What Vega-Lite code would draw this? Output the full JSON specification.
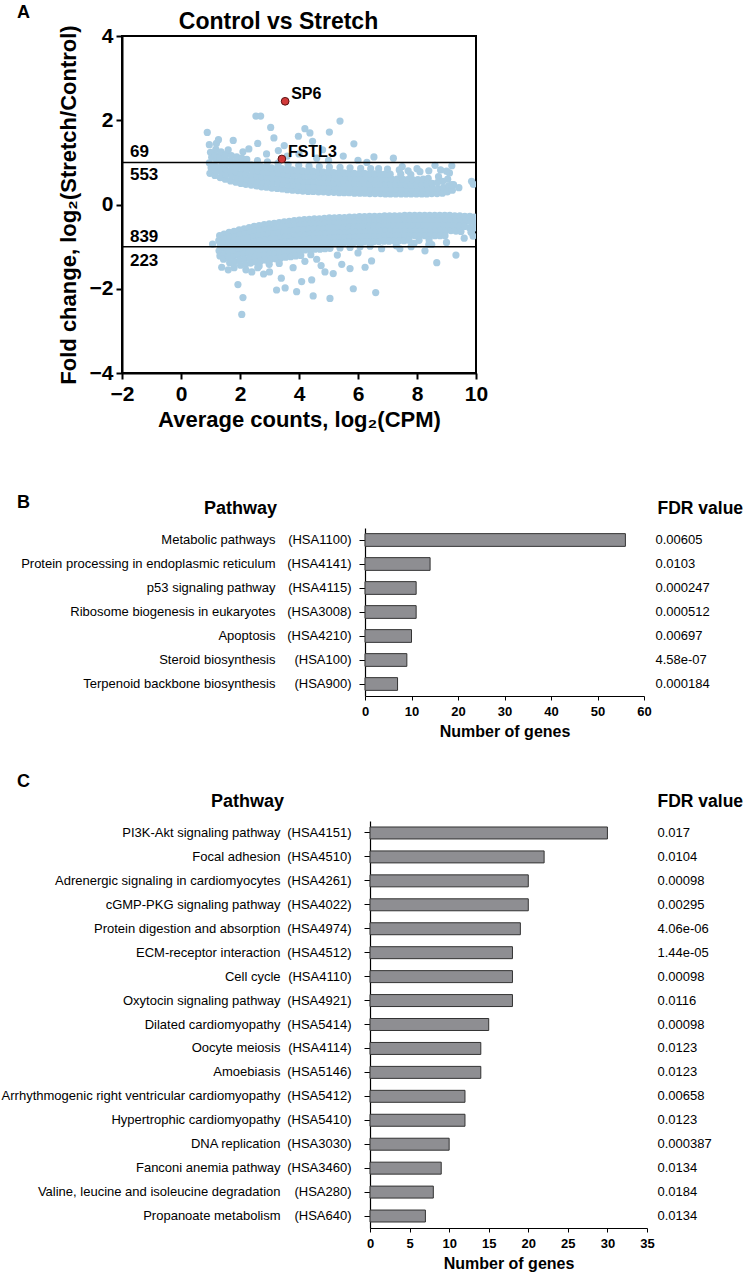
{
  "$schema": "https://vega.github.io/schema/vega-lite/v6.json",
  "padding": {"left": 1, "top": 3, "right": 5, "bottom": 4},
  "config": {
    "font": "Liberation Sans",
    "view": {"stroke": null},
    "axis": {"grid": false, "labelFlush": false, "domainColor": "#000", "tickColor": "#000", "labelColor": "#000", "titleColor": "#000", "labelLimit": 400},
    "title": {"color": "#000"}
  },
  "datasets": {
    "bg": [
      {"x":0.98,"y":0.74},{"x":1.02,"y":0.87},{"x":0.96,"y":0.99},{"x":1.04,"y":1.12},{"x":1.0,"y":1.24},
      {"x":1.15,"y":0.69},{"x":1.19,"y":0.81},{"x":1.14,"y":0.93},{"x":1.2,"y":1.06},{"x":1.16,"y":1.18},{"x":1.18,"y":1.31},
      {"x":1.33,"y":0.64},{"x":1.37,"y":0.76},{"x":1.34,"y":0.89},{"x":1.38,"y":1.01},{"x":1.32,"y":1.13},{"x":1.36,"y":1.25},
      {"x":1.5,"y":0.6},{"x":1.54,"y":0.71},{"x":1.51,"y":0.84},{"x":1.55,"y":0.96},{"x":1.49,"y":1.08},{"x":1.53,"y":1.19},
      {"x":1.68,"y":0.56},{"x":1.72,"y":0.68},{"x":1.69,"y":0.8},{"x":1.73,"y":0.92},{"x":1.67,"y":1.04},{"x":1.71,"y":1.16},
      {"x":1.86,"y":0.53},{"x":1.9,"y":0.65},{"x":1.87,"y":0.77},{"x":1.91,"y":0.89},{"x":1.85,"y":1.01},{"x":1.89,"y":1.13},
      {"x":2.03,"y":0.5},{"x":2.07,"y":0.62},{"x":2.04,"y":0.74},{"x":2.08,"y":0.86},{"x":2.02,"y":0.98},{"x":2.06,"y":1.1},
      {"x":2.2,"y":0.48},{"x":2.24,"y":0.6},{"x":2.21,"y":0.72},{"x":2.25,"y":0.84},{"x":2.19,"y":0.96},{"x":2.23,"y":1.07},
      {"x":2.38,"y":0.46},{"x":2.42,"y":0.58},{"x":2.39,"y":0.7},{"x":2.43,"y":0.82},{"x":2.37,"y":0.94},
      {"x":2.56,"y":0.44},{"x":2.6,"y":0.56},{"x":2.57,"y":0.68},{"x":2.61,"y":0.8},{"x":2.55,"y":0.92},{"x":2.59,"y":1.04},
      {"x":2.73,"y":0.42},{"x":2.77,"y":0.54},{"x":2.74,"y":0.66},{"x":2.78,"y":0.78},{"x":2.72,"y":0.9},
      {"x":2.9,"y":0.41},{"x":2.94,"y":0.53},{"x":2.91,"y":0.65},{"x":2.95,"y":0.77},{"x":2.89,"y":0.89},{"x":2.93,"y":1.01},
      {"x":3.08,"y":0.39},{"x":3.12,"y":0.51},{"x":3.09,"y":0.63},{"x":3.13,"y":0.75},{"x":3.07,"y":0.87},
      {"x":3.26,"y":0.38},{"x":3.3,"y":0.5},{"x":3.27,"y":0.62},{"x":3.31,"y":0.74},{"x":3.25,"y":0.86},{"x":3.29,"y":0.98},
      {"x":3.43,"y":0.37},{"x":3.47,"y":0.49},{"x":3.44,"y":0.61},{"x":3.48,"y":0.73},{"x":3.42,"y":0.85},
      {"x":3.6,"y":0.35},{"x":3.64,"y":0.47},{"x":3.61,"y":0.59},{"x":3.65,"y":0.71},{"x":3.59,"y":0.83},{"x":3.63,"y":0.95},
      {"x":3.78,"y":0.34},{"x":3.82,"y":0.46},{"x":3.79,"y":0.58},{"x":3.83,"y":0.7},{"x":3.77,"y":0.82},
      {"x":3.96,"y":0.33},{"x":4.0,"y":0.45},{"x":3.97,"y":0.57},{"x":4.01,"y":0.69},{"x":3.95,"y":0.81},{"x":3.99,"y":0.93},
      {"x":4.13,"y":0.32},{"x":4.17,"y":0.44},{"x":4.14,"y":0.56},{"x":4.18,"y":0.68},{"x":4.12,"y":0.8},
      {"x":4.31,"y":0.31},{"x":4.35,"y":0.43},{"x":4.32,"y":0.55},{"x":4.36,"y":0.67},{"x":4.3,"y":0.79},{"x":4.34,"y":0.91},
      {"x":4.48,"y":0.31},{"x":4.52,"y":0.43},{"x":4.49,"y":0.55},{"x":4.53,"y":0.67},{"x":4.47,"y":0.79},
      {"x":4.66,"y":0.3},{"x":4.7,"y":0.42},{"x":4.67,"y":0.54},{"x":4.71,"y":0.66},{"x":4.65,"y":0.78},{"x":4.69,"y":0.9},
      {"x":4.83,"y":0.3},{"x":4.87,"y":0.41},{"x":4.84,"y":0.53},{"x":4.88,"y":0.65},{"x":4.82,"y":0.77},
      {"x":5.0,"y":0.29},{"x":5.04,"y":0.41},{"x":5.01,"y":0.53},{"x":5.05,"y":0.65},{"x":4.99,"y":0.77},{"x":5.03,"y":0.89},
      {"x":5.18,"y":0.29},{"x":5.22,"y":0.4},{"x":5.19,"y":0.52},{"x":5.23,"y":0.64},{"x":5.17,"y":0.76},
      {"x":5.36,"y":0.28},{"x":5.4,"y":0.4},{"x":5.37,"y":0.52},{"x":5.41,"y":0.64},{"x":5.35,"y":0.76},{"x":5.39,"y":0.88},
      {"x":5.53,"y":0.28},{"x":5.57,"y":0.39},{"x":5.54,"y":0.51},{"x":5.58,"y":0.63},{"x":5.52,"y":0.75},
      {"x":5.7,"y":0.28},{"x":5.74,"y":0.39},{"x":5.71,"y":0.51},{"x":5.75,"y":0.63},{"x":5.69,"y":0.75},{"x":5.73,"y":0.87},
      {"x":5.88,"y":0.27},{"x":5.92,"y":0.38},{"x":5.89,"y":0.5},{"x":5.93,"y":0.62},{"x":5.87,"y":0.74},
      {"x":6.06,"y":0.27},{"x":6.1,"y":0.38},{"x":6.07,"y":0.5},{"x":6.11,"y":0.62},{"x":6.05,"y":0.74},{"x":6.09,"y":0.86},
      {"x":6.23,"y":0.27},{"x":6.27,"y":0.38},{"x":6.24,"y":0.5},{"x":6.28,"y":0.62},{"x":6.22,"y":0.74},
      {"x":6.4,"y":0.26},{"x":6.44,"y":0.37},{"x":6.41,"y":0.49},{"x":6.45,"y":0.61},{"x":6.39,"y":0.73},{"x":6.43,"y":0.85},
      {"x":6.58,"y":0.26},{"x":6.62,"y":0.37},{"x":6.59,"y":0.49},{"x":6.63,"y":0.61},{"x":6.57,"y":0.73},
      {"x":6.76,"y":0.26},{"x":6.8,"y":0.37},{"x":6.77,"y":0.49},{"x":6.81,"y":0.61},{"x":6.75,"y":0.73},
      {"x":6.93,"y":0.25},{"x":6.97,"y":0.36},{"x":6.94,"y":0.48},{"x":6.98,"y":0.6},{"x":6.92,"y":0.72},
      {"x":7.1,"y":0.25},{"x":7.14,"y":0.36},{"x":7.11,"y":0.48},{"x":7.15,"y":0.6},{"x":7.09,"y":0.72},
      {"x":7.28,"y":0.25},{"x":7.32,"y":0.36},{"x":7.29,"y":0.48},{"x":7.33,"y":0.6},
      {"x":7.46,"y":0.25},{"x":7.5,"y":0.36},{"x":7.47,"y":0.48},{"x":7.51,"y":0.6},{"x":7.45,"y":0.72},
      {"x":7.63,"y":0.25},{"x":7.67,"y":0.35},{"x":7.64,"y":0.47},{"x":7.68,"y":0.59},
      {"x":7.8,"y":0.25},{"x":7.84,"y":0.35},{"x":7.81,"y":0.47},{"x":7.85,"y":0.59},{"x":7.79,"y":0.71},
      {"x":7.98,"y":0.25},{"x":8.02,"y":0.35},{"x":7.99,"y":0.47},{"x":8.03,"y":0.59},
      {"x":8.16,"y":0.25},{"x":8.2,"y":0.35},{"x":8.17,"y":0.47},{"x":8.21,"y":0.6},
      {"x":8.33,"y":0.25},{"x":8.37,"y":0.36},{"x":8.34,"y":0.48},{"x":8.38,"y":0.62},
      {"x":8.5,"y":0.26},{"x":8.54,"y":0.37},{"x":8.51,"y":0.5},
      {"x":8.68,"y":0.26},{"x":8.72,"y":0.38},{"x":8.69,"y":0.52},{"x":8.73,"y":0.66},
      {"x":8.86,"y":0.27},{"x":8.9,"y":0.4},{"x":8.87,"y":0.55},
      {"x":9.03,"y":0.3},{"x":9.07,"y":0.44},{"x":9.04,"y":0.6},
      {"x":9.2,"y":0.34},{"x":9.24,"y":0.47},{"x":9.42,"y":0.4},
      {"x":6.7,"y":0.85},{"x":7.0,"y":0.84},{"x":7.4,"y":0.82},{"x":7.7,"y":0.8},{"x":8.1,"y":0.78},{"x":8.4,"y":0.8},{"x":8.8,"y":0.82},{"x":9.1,"y":0.75},
      {"x":0.89,"y":1.71},{"x":0.96,"y":1.42},{"x":1.2,"y":1.45},{"x":1.27,"y":1.54},{"x":1.6,"y":1.3},{"x":1.77,"y":1.52},{"x":2.1,"y":1.25},{"x":2.3,"y":1.32},
      {"x":2.54,"y":2.1},{"x":2.7,"y":2.1},{"x":2.6,"y":1.45},{"x":2.9,"y":1.2},{"x":3.04,"y":1.83},{"x":3.15,"y":1.58},{"x":3.3,"y":1.28},{"x":3.5,"y":1.4},
      {"x":3.6,"y":1.15},{"x":3.98,"y":1.62},{"x":4.0,"y":1.2},{"x":4.2,"y":1.8},{"x":4.37,"y":1.7},{"x":4.46,"y":1.5},{"x":4.6,"y":1.1},{"x":4.8,"y":1.3},
      {"x":5.0,"y":1.05},{"x":5.03,"y":1.72},{"x":5.39,"y":1.98},{"x":5.5,"y":1.15},{"x":5.86,"y":1.44},{"x":6.0,"y":1.05},{"x":6.3,"y":1.0},{"x":6.54,"y":1.13},
      {"x":7.2,"y":1.1},{"x":7.5,"y":0.9},{"x":8.0,"y":0.85},{"x":8.61,"y":0.93},{"x":9.0,"y":0.79},{"x":9.18,"y":0.92},{"x":9.18,"y":0.47},{"x":9.91,"y":0.48},{"x":9.85,"y":0.55},
      {"x":1.31,"y":-0.74},{"x":1.28,"y":-0.86},{"x":1.33,"y":-0.98},{"x":1.29,"y":-1.1},{"x":1.32,"y":-1.22},
      {"x":1.46,"y":-0.7},{"x":1.49,"y":-0.82},{"x":1.45,"y":-0.94},{"x":1.5,"y":-1.06},{"x":1.47,"y":-1.18},{"x":1.44,"y":-1.3},
      {"x":1.63,"y":-0.66},{"x":1.66,"y":-0.78},{"x":1.62,"y":-0.9},{"x":1.67,"y":-1.02},{"x":1.64,"y":-1.14},{"x":1.61,"y":-1.26},{"x":1.65,"y":-1.38},
      {"x":1.8,"y":-0.64},{"x":1.83,"y":-0.76},{"x":1.79,"y":-0.88},{"x":1.84,"y":-1.0},{"x":1.81,"y":-1.12},{"x":1.78,"y":-1.24},{"x":1.82,"y":-1.36},
      {"x":1.97,"y":-0.6},{"x":2.0,"y":-0.72},{"x":1.96,"y":-0.84},{"x":2.01,"y":-0.96},{"x":1.98,"y":-1.08},{"x":1.95,"y":-1.2},{"x":1.99,"y":-1.32},{"x":2.02,"y":-1.44},
      {"x":2.14,"y":-0.58},{"x":2.17,"y":-0.7},{"x":2.13,"y":-0.82},{"x":2.18,"y":-0.94},{"x":2.15,"y":-1.06},{"x":2.12,"y":-1.18},{"x":2.16,"y":-1.3},{"x":2.19,"y":-1.42},
      {"x":2.31,"y":-0.55},{"x":2.34,"y":-0.67},{"x":2.3,"y":-0.79},{"x":2.35,"y":-0.91},{"x":2.32,"y":-1.03},{"x":2.29,"y":-1.15},{"x":2.33,"y":-1.27},{"x":2.36,"y":-1.39},
      {"x":2.48,"y":-0.52},{"x":2.51,"y":-0.64},{"x":2.47,"y":-0.76},{"x":2.52,"y":-0.88},{"x":2.49,"y":-1.0},{"x":2.46,"y":-1.12},{"x":2.5,"y":-1.24},{"x":2.53,"y":-1.36},
      {"x":2.65,"y":-0.5},{"x":2.68,"y":-0.62},{"x":2.64,"y":-0.74},{"x":2.69,"y":-0.86},{"x":2.66,"y":-0.98},{"x":2.63,"y":-1.1},{"x":2.67,"y":-1.22},{"x":2.7,"y":-1.34},{"x":2.65,"y":-1.46},
      {"x":2.82,"y":-0.48},{"x":2.85,"y":-0.6},{"x":2.81,"y":-0.72},{"x":2.86,"y":-0.84},{"x":2.83,"y":-0.96},{"x":2.8,"y":-1.08},{"x":2.84,"y":-1.2},{"x":2.87,"y":-1.32},
      {"x":2.99,"y":-0.46},{"x":3.02,"y":-0.58},{"x":2.98,"y":-0.7},{"x":3.03,"y":-0.82},{"x":3.0,"y":-0.94},{"x":2.97,"y":-1.06},{"x":3.01,"y":-1.18},{"x":3.04,"y":-1.3},{"x":2.99,"y":-1.42},
      {"x":3.16,"y":-0.45},{"x":3.19,"y":-0.57},{"x":3.15,"y":-0.69},{"x":3.2,"y":-0.81},{"x":3.17,"y":-0.93},{"x":3.14,"y":-1.05},{"x":3.18,"y":-1.17},{"x":3.21,"y":-1.29},
      {"x":3.33,"y":-0.43},{"x":3.36,"y":-0.55},{"x":3.32,"y":-0.67},{"x":3.37,"y":-0.79},{"x":3.34,"y":-0.91},{"x":3.31,"y":-1.03},{"x":3.35,"y":-1.15},{"x":3.38,"y":-1.27},{"x":3.33,"y":-1.4},
      {"x":3.5,"y":-0.41},{"x":3.53,"y":-0.53},{"x":3.49,"y":-0.65},{"x":3.54,"y":-0.77},{"x":3.51,"y":-0.89},{"x":3.48,"y":-1.01},{"x":3.52,"y":-1.13},{"x":3.55,"y":-1.25},
      {"x":3.67,"y":-0.4},{"x":3.7,"y":-0.52},{"x":3.66,"y":-0.64},{"x":3.71,"y":-0.76},{"x":3.68,"y":-0.88},{"x":3.65,"y":-1.0},{"x":3.69,"y":-1.12},{"x":3.72,"y":-1.24},
      {"x":3.84,"y":-0.38},{"x":3.87,"y":-0.5},{"x":3.83,"y":-0.62},{"x":3.88,"y":-0.74},{"x":3.85,"y":-0.86},{"x":3.82,"y":-0.98},{"x":3.86,"y":-1.1},{"x":3.89,"y":-1.22},
      {"x":4.01,"y":-0.37},{"x":4.04,"y":-0.49},{"x":4.0,"y":-0.61},{"x":4.05,"y":-0.73},{"x":4.02,"y":-0.85},{"x":3.99,"y":-0.97},{"x":4.03,"y":-1.09},{"x":4.06,"y":-1.21},
      {"x":4.18,"y":-0.36},{"x":4.21,"y":-0.48},{"x":4.17,"y":-0.6},{"x":4.22,"y":-0.72},{"x":4.19,"y":-0.84},{"x":4.16,"y":-0.96},{"x":4.2,"y":-1.08},
      {"x":4.35,"y":-0.35},{"x":4.38,"y":-0.47},{"x":4.34,"y":-0.59},{"x":4.39,"y":-0.71},{"x":4.36,"y":-0.83},{"x":4.33,"y":-0.95},{"x":4.37,"y":-1.07},{"x":4.4,"y":-1.19},
      {"x":4.52,"y":-0.34},{"x":4.55,"y":-0.46},{"x":4.51,"y":-0.58},{"x":4.56,"y":-0.7},{"x":4.53,"y":-0.82},{"x":4.5,"y":-0.94},{"x":4.54,"y":-1.06},
      {"x":4.69,"y":-0.34},{"x":4.72,"y":-0.46},{"x":4.68,"y":-0.58},{"x":4.73,"y":-0.7},{"x":4.7,"y":-0.82},{"x":4.67,"y":-0.94},{"x":4.71,"y":-1.06},
      {"x":4.86,"y":-0.33},{"x":4.89,"y":-0.45},{"x":4.85,"y":-0.57},{"x":4.9,"y":-0.69},{"x":4.87,"y":-0.81},{"x":4.84,"y":-0.93},{"x":4.88,"y":-1.05},
      {"x":5.03,"y":-0.32},{"x":5.06,"y":-0.44},{"x":5.02,"y":-0.56},{"x":5.07,"y":-0.68},{"x":5.04,"y":-0.8},{"x":5.01,"y":-0.92},{"x":5.05,"y":-1.04},
      {"x":5.2,"y":-0.32},{"x":5.23,"y":-0.44},{"x":5.19,"y":-0.56},{"x":5.24,"y":-0.68},{"x":5.21,"y":-0.8},{"x":5.18,"y":-0.92},
      {"x":5.37,"y":-0.31},{"x":5.4,"y":-0.43},{"x":5.36,"y":-0.55},{"x":5.41,"y":-0.67},{"x":5.38,"y":-0.79},{"x":5.35,"y":-0.91},{"x":5.39,"y":-1.03},
      {"x":5.54,"y":-0.31},{"x":5.57,"y":-0.43},{"x":5.53,"y":-0.55},{"x":5.58,"y":-0.67},{"x":5.55,"y":-0.79},{"x":5.52,"y":-0.91},
      {"x":5.71,"y":-0.3},{"x":5.74,"y":-0.42},{"x":5.7,"y":-0.54},{"x":5.75,"y":-0.66},{"x":5.72,"y":-0.78},{"x":5.69,"y":-0.9},{"x":5.73,"y":-1.02},
      {"x":5.88,"y":-0.3},{"x":5.91,"y":-0.42},{"x":5.87,"y":-0.54},{"x":5.92,"y":-0.66},{"x":5.89,"y":-0.78},{"x":5.86,"y":-0.9},
      {"x":6.05,"y":-0.29},{"x":6.08,"y":-0.41},{"x":6.04,"y":-0.53},{"x":6.09,"y":-0.65},{"x":6.06,"y":-0.77},{"x":6.03,"y":-0.89},{"x":6.07,"y":-1.0},
      {"x":6.22,"y":-0.29},{"x":6.25,"y":-0.41},{"x":6.21,"y":-0.53},{"x":6.26,"y":-0.65},{"x":6.23,"y":-0.77},{"x":6.2,"y":-0.89},
      {"x":6.39,"y":-0.28},{"x":6.42,"y":-0.4},{"x":6.38,"y":-0.52},{"x":6.43,"y":-0.64},{"x":6.4,"y":-0.76},{"x":6.37,"y":-0.88},{"x":6.41,"y":-0.99},
      {"x":6.56,"y":-0.28},{"x":6.59,"y":-0.4},{"x":6.55,"y":-0.52},{"x":6.6,"y":-0.64},{"x":6.57,"y":-0.76},{"x":6.54,"y":-0.88},
      {"x":6.73,"y":-0.28},{"x":6.76,"y":-0.4},{"x":6.72,"y":-0.52},{"x":6.77,"y":-0.64},{"x":6.74,"y":-0.76},{"x":6.71,"y":-0.88},
      {"x":6.9,"y":-0.27},{"x":6.93,"y":-0.39},{"x":6.89,"y":-0.51},{"x":6.94,"y":-0.63},{"x":6.91,"y":-0.75},{"x":6.88,"y":-0.87},
      {"x":7.07,"y":-0.27},{"x":7.1,"y":-0.39},{"x":7.06,"y":-0.51},{"x":7.11,"y":-0.63},{"x":7.08,"y":-0.75},{"x":7.05,"y":-0.87},
      {"x":7.24,"y":-0.27},{"x":7.27,"y":-0.39},{"x":7.23,"y":-0.51},{"x":7.28,"y":-0.63},{"x":7.25,"y":-0.75},{"x":7.22,"y":-0.86},
      {"x":7.41,"y":-0.27},{"x":7.44,"y":-0.39},{"x":7.4,"y":-0.51},{"x":7.45,"y":-0.63},{"x":7.42,"y":-0.75},{"x":7.39,"y":-0.86},
      {"x":7.58,"y":-0.26},{"x":7.61,"y":-0.38},{"x":7.57,"y":-0.5},{"x":7.62,"y":-0.62},{"x":7.59,"y":-0.74},{"x":7.56,"y":-0.86},
      {"x":7.75,"y":-0.26},{"x":7.78,"y":-0.38},{"x":7.74,"y":-0.5},{"x":7.79,"y":-0.62},{"x":7.76,"y":-0.74},{"x":7.73,"y":-0.85},
      {"x":7.92,"y":-0.26},{"x":7.95,"y":-0.38},{"x":7.91,"y":-0.5},{"x":7.96,"y":-0.62},{"x":7.93,"y":-0.74},
      {"x":8.09,"y":-0.26},{"x":8.12,"y":-0.38},{"x":8.08,"y":-0.5},{"x":8.13,"y":-0.62},{"x":8.1,"y":-0.74},{"x":8.07,"y":-0.85},
      {"x":8.26,"y":-0.26},{"x":8.29,"y":-0.38},{"x":8.25,"y":-0.5},{"x":8.3,"y":-0.62},{"x":8.27,"y":-0.74},
      {"x":8.43,"y":-0.26},{"x":8.46,"y":-0.38},{"x":8.42,"y":-0.5},{"x":8.47,"y":-0.62},{"x":8.44,"y":-0.74},{"x":8.41,"y":-0.84},
      {"x":8.6,"y":-0.26},{"x":8.63,"y":-0.38},{"x":8.59,"y":-0.5},{"x":8.64,"y":-0.62},{"x":8.61,"y":-0.74},
      {"x":8.77,"y":-0.26},{"x":8.8,"y":-0.38},{"x":8.76,"y":-0.5},{"x":8.81,"y":-0.62},{"x":8.78,"y":-0.74},
      {"x":8.94,"y":-0.26},{"x":8.97,"y":-0.38},{"x":8.93,"y":-0.5},{"x":8.98,"y":-0.62},{"x":8.95,"y":-0.74},
      {"x":9.11,"y":-0.26},{"x":9.14,"y":-0.38},{"x":9.1,"y":-0.5},{"x":9.15,"y":-0.62},
      {"x":9.28,"y":-0.27},{"x":9.31,"y":-0.39},{"x":9.27,"y":-0.51},{"x":9.32,"y":-0.63},
      {"x":9.45,"y":-0.27},{"x":9.48,"y":-0.39},{"x":9.44,"y":-0.51},{"x":9.49,"y":-0.64},
      {"x":9.62,"y":-0.28},{"x":9.65,"y":-0.4},{"x":9.61,"y":-0.52},
      {"x":9.79,"y":-0.28},{"x":9.82,"y":-0.4},{"x":9.78,"y":-0.55},{"x":9.83,"y":-0.66},
      {"x":9.94,"y":-0.3},{"x":9.97,"y":-0.45},
      {"x":7.3,"y":-0.98},{"x":7.9,"y":-0.92},{"x":8.5,"y":-0.95},{"x":9.6,"y":-0.8},{"x":9.9,"y":-0.75},
      {"x":1.07,"y":-0.94},{"x":1.38,"y":-1.49},{"x":1.6,"y":-1.55},{"x":1.8,"y":-1.5},{"x":1.93,"y":-1.9},{"x":2.1,"y":-2.21},{"x":2.06,"y":-2.61},{"x":2.2,"y":-1.55},
      {"x":2.4,"y":-1.6},{"x":2.6,"y":-1.5},{"x":2.8,"y":-1.65},{"x":3.0,"y":-1.6},{"x":3.24,"y":-2.03},{"x":3.4,"y":-1.75},{"x":3.53,"y":-1.98},{"x":3.8,"y":-1.5},
      {"x":3.92,"y":-2.07},{"x":4.09,"y":-1.83},{"x":4.2,"y":-1.35},{"x":4.43,"y":-1.79},{"x":4.48,"y":-2.17},{"x":4.6,"y":-1.3},{"x":4.75,"y":-1.45},{"x":4.88,"y":-1.6},
      {"x":5.05,"y":-2.23},{"x":5.16,"y":-1.64},{"x":5.3,"y":-1.2},{"x":5.45,"y":-1.42},{"x":5.73,"y":-1.52},{"x":5.84,"y":-2.0},{"x":6.0,"y":-1.15},{"x":6.24,"y":-1.49},
      {"x":6.46,"y":-1.34},{"x":6.6,"y":-2.09},{"x":6.8,"y":-1.05},{"x":7.42,"y":-1.05},{"x":7.8,"y":-1.0},{"x":8.27,"y":-1.1},{"x":8.4,"y":-0.95},{"x":8.67,"y":-1.38},
      {"x":9.0,"y":-0.9},{"x":9.32,"y":-1.2},{"x":9.85,"y":-0.64},{"x":10.0,"y":-0.55}
    ],
    "hl": [
      {"gene": "SP6", "x": 3.53, "y": 2.45},
      {"gene": "FSTL3", "x": 3.42, "y": 1.08}
    ],
    "counts": [
      {"n": "69", "x": -1.73, "y": 1.24},
      {"n": "553", "x": -1.73, "y": 0.69},
      {"n": "839", "x": -1.73, "y": -0.76},
      {"n": "223", "x": -1.73, "y": -1.33}
    ],
    "cut": [{"y": 1}, {"y": -1}],
    "pathB": [
      {"row": "Metabolic pathways|(HSA1100)|0.00605", "genes": 56},
      {"row": "Protein processing in endoplasmic reticulum|(HSA4141)|0.0103", "genes": 14},
      {"row": "p53 signaling pathway|(HSA4115)|0.000247", "genes": 11},
      {"row": "Ribosome biogenesis in eukaryotes|(HSA3008)|0.000512", "genes": 11},
      {"row": "Apoptosis|(HSA4210)|0.00697", "genes": 10},
      {"row": "Steroid biosynthesis|(HSA100)|4.58e-07", "genes": 9},
      {"row": "Terpenoid backbone biosynthesis|(HSA900)|0.000184", "genes": 7}
    ],
    "pathC": [
      {"row": "PI3K-Akt signaling pathway|(HSA4151)|0.017", "genes": 30},
      {"row": "Focal adhesion|(HSA4510)|0.0104", "genes": 22},
      {"row": "Adrenergic signaling in cardiomyocytes|(HSA4261)|0.00098", "genes": 20},
      {"row": "cGMP-PKG signaling pathway|(HSA4022)|0.00295", "genes": 20},
      {"row": "Protein digestion and absorption|(HSA4974)|4.06e-06", "genes": 19},
      {"row": "ECM-receptor interaction|(HSA4512)|1.44e-05", "genes": 18},
      {"row": "Cell cycle|(HSA4110)|0.00098", "genes": 18},
      {"row": "Oxytocin signaling pathway|(HSA4921)|0.0116", "genes": 18},
      {"row": "Dilated cardiomyopathy|(HSA5414)|0.00098", "genes": 15},
      {"row": "Oocyte meiosis|(HSA4114)|0.0123", "genes": 14},
      {"row": "Amoebiasis|(HSA5146)|0.0123", "genes": 14},
      {"row": "Arrhythmogenic right ventricular cardiomyopathy|(HSA5412)|0.00658", "genes": 12},
      {"row": "Hypertrophic cardiomyopathy|(HSA5410)|0.0123", "genes": 12},
      {"row": "DNA replication|(HSA3030)|0.000387", "genes": 10},
      {"row": "Fanconi anemia pathway|(HSA3460)|0.0134", "genes": 9},
      {"row": "Valine, leucine and isoleucine degradation|(HSA280)|0.0184", "genes": 8},
      {"row": "Propanoate metabolism|(HSA640)|0.0134", "genes": 7}
    ]
  },
  "spacing": 63,
  "vconcat": [
    {
      "width": 354,
      "height": 337,
      "view": {"stroke": "#000", "strokeWidth": 2},
      "title": {"text": "A", "anchor": "start", "frame": "group", "dx": -105, "offset": -26, "fontSize": 18, "fontWeight": "bold", "baseline": "alphabetic"},
      "resolve": {"axis": {"x": "independent"}},
      "layer": [
        {
          "data": {"name": "bg"},
          "mark": {"type": "circle", "size": 52, "opacity": 1, "color": "#a9cce2", "clip": true},
          "encoding": {
            "x": {"field": "x", "type": "quantitative", "scale": {"domain": [-2, 10], "nice": false, "zero": false},
              "axis": {"orient": "bottom", "values": [-2, 0, 2, 4, 6, 8, 10], "title": "Average counts, log₂(CPM)", "labelFontSize": 21, "labelFontWeight": "bold", "titleFontSize": 22, "titleFontWeight": "bold", "tickSize": 6, "tickWidth": 2, "domainWidth": 2, "labelPadding": 4, "titlePadding": 5}},
            "y": {"field": "y", "type": "quantitative", "scale": {"domain": [-4, 4], "nice": false, "zero": false},
              "axis": {"values": [-4, -2, 0, 2, 4], "title": "Fold change, log₂(Stretch/Control)", "labelFontSize": 21, "labelFontWeight": "bold", "titleFontSize": 22, "titleFontWeight": "bold", "tickSize": 6, "tickWidth": 2, "domainWidth": 2, "labelPadding": 3, "titlePadding": 9}}
          }
        },
        {
          "data": {"name": "cut"},
          "mark": {"type": "rule", "color": "#000", "strokeWidth": 1.5},
          "encoding": {"y": {"field": "y", "type": "quantitative"}}
        },
        {
          "data": {"name": "hl"},
          "mark": {"type": "circle", "size": 60, "color": "#d23a3a", "stroke": "#5a1010", "strokeWidth": 1, "opacity": 1},
          "encoding": {
            "x": {"field": "x", "type": "quantitative",
              "axis": {"orient": "top", "title": "Control vs Stretch", "labels": false, "ticks": false, "domain": false, "titleFontSize": 23, "titleFontWeight": "bold", "titleX": 156, "titleY": -8, "titleAlign": "center", "titleBaseline": "alphabetic"}},
            "y": {"field": "y", "type": "quantitative"}
          }
        },
        {
          "data": {"name": "hl"},
          "mark": {"type": "text", "align": "left", "baseline": "middle", "dx": 6, "dy": -7, "fontSize": 16, "fontWeight": "bold", "color": "#000"},
          "encoding": {
            "x": {"field": "x", "type": "quantitative", "axis": null},
            "y": {"field": "y", "type": "quantitative"},
            "text": {"field": "gene"}
          }
        },
        {
          "data": {"name": "counts"},
          "mark": {"type": "text", "align": "left", "baseline": "middle", "fontSize": 17, "fontWeight": "bold", "color": "#000"},
          "encoding": {
            "x": {"field": "x", "type": "quantitative", "axis": null},
            "y": {"field": "y", "type": "quantitative"},
            "text": {"field": "n"}
          }
        }
      ]
    },
    {
      "spacing": 34,
      "vconcat": [
        {
          "width": 522,
          "height": 168,
          "data": {"name": "pathB"},
          "title": {"text": "B", "anchor": "start", "frame": "group", "dx": -105, "offset": -27, "fontSize": 18, "fontWeight": "bold", "baseline": "alphabetic"},
          "resolve": {"axis": {"y": "independent"}},
          "layer": [
            {
              "mark": {"type": "bar", "fill": "#8e8e92", "stroke": "#333333", "strokeWidth": 1},
              "encoding": {
                "y": {"field": "row", "type": "nominal", "sort": null, "scale": {"paddingInner": 0.47, "paddingOuter": 0.235},
                  "axis": {"orient": "left", "offset": -243, "labelExpr": "split(datum.value, '|')[1]", "title": null, "tickSize": 6, "labelPadding": 8, "labelFontSize": 13, "domainWidth": 1.2}},
                "x": {"field": "genes", "type": "quantitative", "scale": {"domain": [0, 60], "range": [243, 522], "nice": false},
                  "axis": {"values": [0, 10, 20, 30, 40, 50, 60], "title": "Number of genes", "labelFontSize": 13, "labelFontWeight": "bold", "titleFontSize": 16, "titleFontWeight": "bold", "tickSize": 4, "labelPadding": 5, "titlePadding": 5, "domainWidth": 1.2}}
              }
            },
            {
              "mark": {"type": "bar", "opacity": 0},
              "encoding": {
                "y": {"field": "row", "type": "nominal", "sort": null,
                  "axis": {"orient": "left", "offset": -243, "labelExpr": "split(datum.value, '|')[0]", "ticks": false, "domain": false, "labelPadding": 90, "labelFontSize": 13, "title": "Pathway", "titleAngle": 0, "titleX": -125, "titleY": -15, "titleAlign": "center", "titleBaseline": "alphabetic", "titleFontSize": 18, "titleFontWeight": "bold"}},
                "x": {"field": "genes", "type": "quantitative"}
              }
            },
            {
              "mark": {"type": "bar", "opacity": 0},
              "encoding": {
                "y": {"field": "row", "type": "nominal", "sort": null,
                  "axis": {"orient": "right", "labelExpr": "split(datum.value, '|')[2]", "ticks": false, "domain": false, "labelPadding": 11, "labelAlign": "left", "labelFontSize": 13, "title": "FDR value", "titleAngle": 0, "titleX": 13, "titleY": -15, "titleAlign": "left", "titleBaseline": "alphabetic", "titleFontSize": 17.5, "titleFontWeight": "bold"}},
                "x": {"field": "genes", "type": "quantitative"}
              }
            }
          ]
        },
        {
          "width": 525,
          "height": 407,
          "data": {"name": "pathC"},
          "title": {"text": "C", "anchor": "start", "frame": "group", "dx": -105, "offset": -13, "fontSize": 18, "fontWeight": "bold", "baseline": "alphabetic"},
          "resolve": {"axis": {"y": "independent"}},
          "layer": [
            {
              "mark": {"type": "bar", "fill": "#8e8e92", "stroke": "#333333", "strokeWidth": 1},
              "encoding": {
                "y": {"field": "row", "type": "nominal", "sort": null, "scale": {"paddingInner": 0.5, "paddingOuter": 0.25},
                  "axis": {"orient": "left", "offset": -248, "labelExpr": "split(datum.value, '|')[1]", "title": null, "tickSize": 6, "labelPadding": 13, "labelFontSize": 13, "domainWidth": 1.2}},
                "x": {"field": "genes", "type": "quantitative", "scale": {"domain": [0, 35], "range": [248, 525], "nice": false},
                  "axis": {"values": [0, 5, 10, 15, 20, 25, 30, 35], "title": "Number of genes", "labelFontSize": 13, "labelFontWeight": "bold", "titleFontSize": 16, "titleFontWeight": "bold", "tickSize": 4, "labelPadding": 5, "titlePadding": 5, "domainWidth": 1.2}}
              }
            },
            {
              "mark": {"type": "bar", "opacity": 0},
              "encoding": {
                "y": {"field": "row", "type": "nominal", "sort": null,
                  "axis": {"orient": "left", "offset": -248, "labelExpr": "split(datum.value, '|')[0]", "ticks": false, "domain": false, "labelPadding": 90, "labelFontSize": 13, "title": "Pathway", "titleAngle": 0, "titleX": -123, "titleY": -15, "titleAlign": "center", "titleBaseline": "alphabetic", "titleFontSize": 18, "titleFontWeight": "bold"}},
                "x": {"field": "genes", "type": "quantitative"}
              }
            },
            {
              "mark": {"type": "bar", "opacity": 0},
              "encoding": {
                "y": {"field": "row", "type": "nominal", "sort": null,
                  "axis": {"orient": "right", "labelExpr": "split(datum.value, '|')[2]", "ticks": false, "domain": false, "labelPadding": 10, "labelAlign": "left", "labelFontSize": 13, "title": "FDR value", "titleAngle": 0, "titleX": 10, "titleY": -15, "titleAlign": "left", "titleBaseline": "alphabetic", "titleFontSize": 17.5, "titleFontWeight": "bold"}},
                "x": {"field": "genes", "type": "quantitative"}
              }
            }
          ]
        }
      ]
    }
  ]
}
